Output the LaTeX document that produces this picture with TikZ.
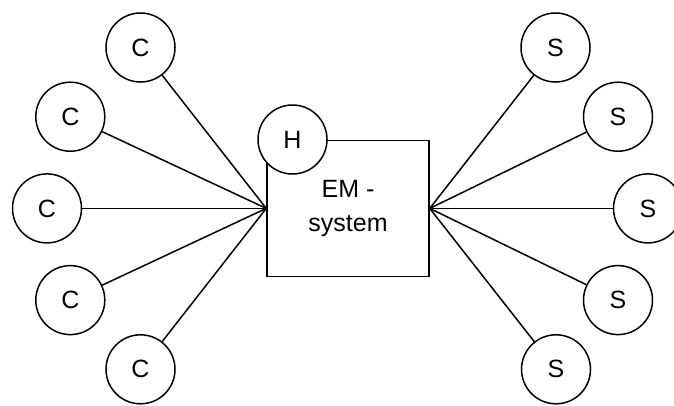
\documentclass[tikz,border=0pt]{standalone}
\usepackage{fontspec}
\setmainfont{Liberation Sans}
\begin{document}
\begin{tikzpicture}[x=1pt,y=-1pt,
  every node/.style={font=\fontsize{25}{34}\selectfont},
  unit/.style={draw,circle,line width=1.5pt,fill=white,minimum size=69pt,inner sep=0pt},
  core/.style={draw,rectangle,line width=1.5pt,fill=white,minimum width=162pt,minimum height=136pt,align=center,inner sep=0pt},
  link/.style={line width=1.5pt}]
\useasboundingbox (0,0) rectangle (674,405);
\clip (0,0) rectangle (674,405);

% central system block
\node[core] (em) at (348,208.4) {EM -\\system};

% client circles on the left
\node[unit] (c1) at (140.5,47.5) {C};
\node[unit] (c2) at (70.3,116.7) {C};
\node[unit] (c3) at (47,208.4) {C};
\node[unit] (c4) at (70.3,300.1) {C};
\node[unit] (c5) at (140.5,369.3) {C};

% server circles on the right
\node[unit] (s1) at (555.5,47.5) {S};
\node[unit] (s2) at (618,116.7) {S};
\node[unit] (s3) at (648,208.4) {S};
\node[unit] (s4) at (618,300.1) {S};
\node[unit] (s5) at (556,369.3) {S};

% spokes into the block
\foreach \n in {c1,c2,c3,c4,c5}
  \draw[link] (\n) -- (em.west);
\foreach \n in {s1,s2,s3,s4,s5}
  \draw[link] (\n) -- (em.east);

% host circle sitting on the block's corner
\node[unit] (h) at (292.5,139.5) {H};
\end{tikzpicture}
\end{document}
